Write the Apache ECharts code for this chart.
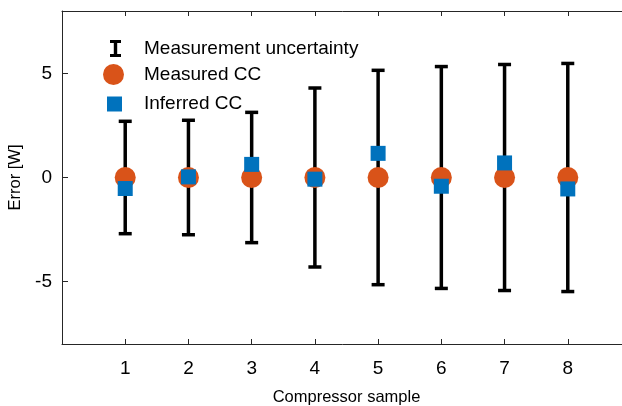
<!DOCTYPE html>
<html>
<head>
<meta charset="utf-8">
<script src="https://cdn.jsdelivr.net/npm/echarts@6/dist/echarts.min.js"></script>
<style>
    html, body { margin: 0; padding: 0; background: #fff; }
    #chart { width: 622px; height: 406px; }
</style>
</head>
<body>
<div id="chart"></div>
<script>
const samples = [1, 2, 3, 4, 5, 6, 7, 8]
const uncertainty = [2.7, 2.75, 3.13, 4.3, 5.15, 5.33, 5.43, 5.48]
const measuredCC = [0, 0, 0, 0, 0, 0, 0, 0]
const inferredCC = [-0.53, 0.03, 0.63, -0.08, 1.16, -0.42, 0.7, -0.55]
const yTicks = [-5, 0, 5]

const font = 'Liberation Sans, Arial, sans-serif'
const axisColor = '#262626'

const chart = echarts.init(document.getElementById('chart'))

const errorData = samples.map((s, i) => [s, measuredCC[i] - uncertainty[i], measuredCC[i] + uncertainty[i]])

const renderErrorBar = (params, api) => {
    const x = api.value(0)
    const top = api.coord([x, api.value(2)])
    const bot = api.coord([x, api.value(1)])
    const hw = 6.5
    const style = { stroke: '#000', lineWidth: 3.5 }
    return {
        type: 'group',
        children: [
            { type: 'line', shape: { x1: top[0], y1: top[1], x2: bot[0], y2: bot[1] }, style },
            { type: 'line', shape: { x1: top[0] - hw, y1: top[1], x2: top[0] + hw, y2: top[1] }, style },
            { type: 'line', shape: { x1: bot[0] - hw, y1: bot[1], x2: bot[0] + hw, y2: bot[1] }, style },
        ],
    }
}

const legendBase = {
    orient: 'vertical',
    padding: 0,
    selectedMode: false,
    textStyle: { fontFamily: font, fontSize: 19, color: '#000' },
}

chart.setOption({
    animation: false,
    grid: { left: 62, right: -9, top: 11, bottom: 62, outerBoundsMode: 'none' },
    legend: [
        {
            ...legendBase,
            left: 110, top: 39, itemWidth: 11, itemHeight: 17,
            data: [{ name: 'Measurement uncertainty', icon: 'path://M0,0H11V3H7.2V14H11V17H0V14H3.8V3H0Z' }],
            textStyle: { ...legendBase.textStyle, padding: [0, 0, 0, 18] },
        },
        {
            ...legendBase,
            left: 103, top: 64, itemWidth: 21, itemHeight: 21,
            data: ['Measured CC'],
            textStyle: { ...legendBase.textStyle, padding: [0, 0, 0, 15] },
        },
        {
            ...legendBase,
            left: 107, top: 94.5, itemWidth: 15, itemHeight: 15,
            data: ['Inferred CC'],
            textStyle: { ...legendBase.textStyle, padding: [0, 0, 0, 17] },
        },
    ],
    xAxis: [
        {
            type: 'value',
            min: 0,
            max: 9,
            position: 'bottom',
            name: 'Compressor sample',
            nameLocation: 'middle',
            nameGap: 45,
            nameTextStyle: { fontFamily: font, fontSize: 16.5, color: '#000' },
            axisLine: { onZero: false, lineStyle: { color: axisColor, width: 1 } },
            axisTick: { inside: true, length: 5, customValues: samples, lineStyle: { color: axisColor } },
            axisLabel: { customValues: samples, fontFamily: font, fontSize: 19, color: '#000', margin: 15 },
            splitLine: { show: false },
        },
        {
            type: 'value',
            min: 0,
            max: 9,
            position: 'top',
            axisLine: { onZero: false, lineStyle: { color: axisColor, width: 1 } },
            axisTick: { inside: true, length: 5, customValues: samples, lineStyle: { color: axisColor } },
            axisLabel: { show: false },
            splitLine: { show: false },
        },
    ],
    yAxis: {
        type: 'value',
        min: -8,
        max: 8,
        name: 'Error [W]',
        nameLocation: 'middle',
        nameGap: 35,
        nameTextStyle: { fontFamily: font, fontSize: 16.5, color: '#000' },
        axisLine: { show: true, onZero: false, lineStyle: { color: axisColor, width: 1 } },
        axisTick: { show: true, inside: true, length: 6, customValues: yTicks, lineStyle: { color: axisColor } },
        axisLabel: { customValues: yTicks, fontFamily: font, fontSize: 19, color: '#000', margin: 10 },
        splitLine: { show: false },
    },
    series: [
        {
            name: 'Measurement uncertainty',
            type: 'custom',
            renderItem: renderErrorBar,
            itemStyle: { color: '#000' },
            encode: { x: 0, y: [1, 2] },
            data: errorData,
            z: 2,
        },
        {
            name: 'Measured CC',
            type: 'scatter',
            symbol: 'circle',
            symbolSize: 21,
            itemStyle: { color: '#D95319', opacity: 1 },
            data: samples.map((s, i) => [s, measuredCC[i]]),
            z: 3,
        },
        {
            name: 'Inferred CC',
            type: 'scatter',
            symbol: 'rect',
            symbolSize: 15,
            itemStyle: { color: '#0072BD', opacity: 1 },
            data: samples.map((s, i) => [s, inferredCC[i]]),
            z: 4,
        },
    ],
})
</script>
</body>
</html>
